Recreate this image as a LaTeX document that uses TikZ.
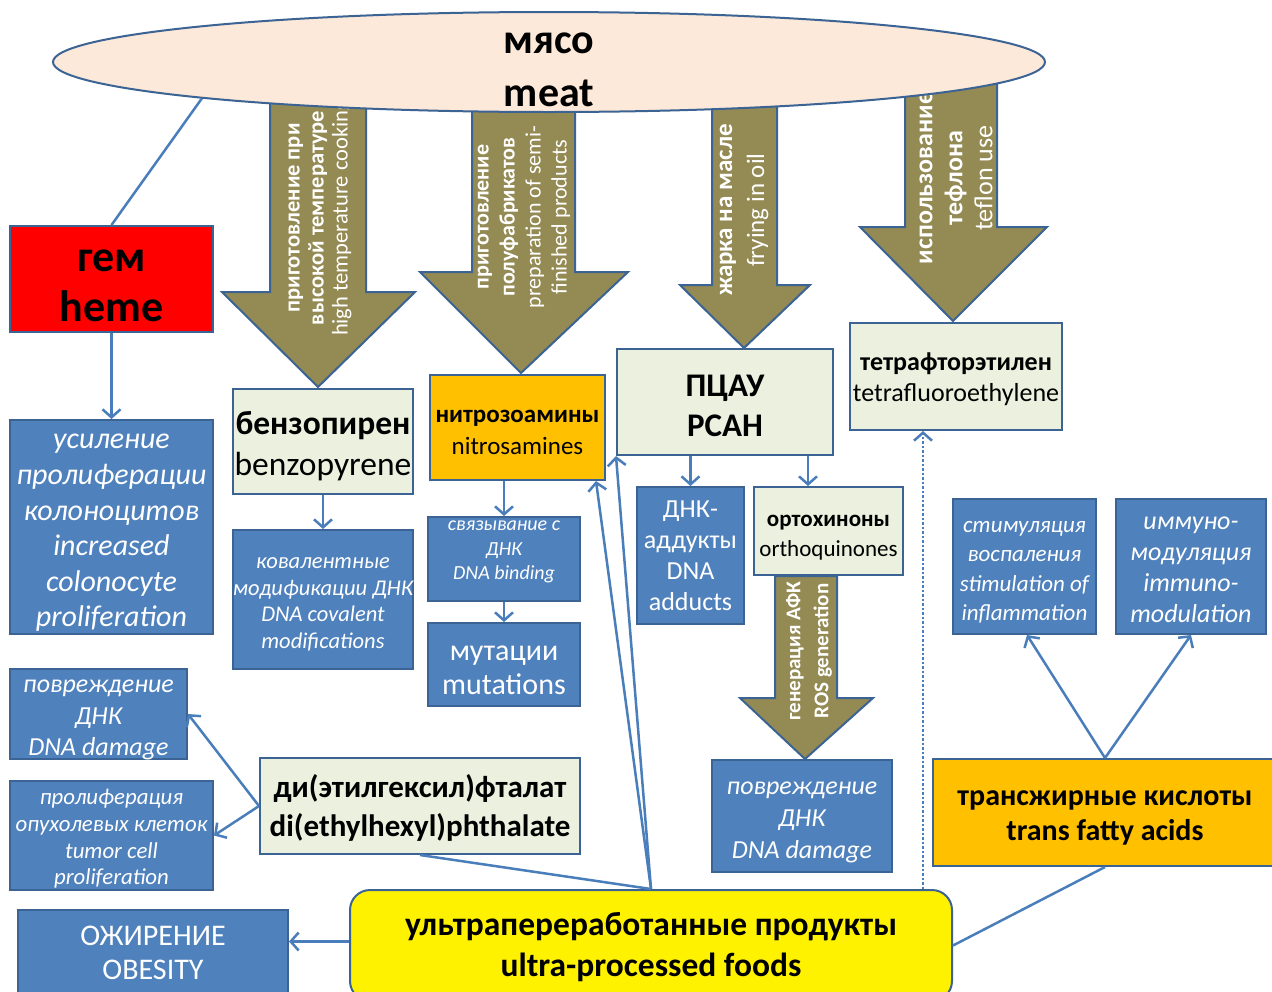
\documentclass[tikz,border=0pt]{standalone}
\usepackage{fontspec}
\setmainfont{Carlito}
\usetikzlibrary{shapes.geometric, arrows.meta, calc}
\definecolor{boxblue}{HTML}{4F81BD}
\definecolor{bordc}{HTML}{3B6393}
\definecolor{lightg}{HTML}{EBF1DE}
\definecolor{olivec}{HTML}{948A54}
\definecolor{ellfill}{HTML}{FDE9D9}
\definecolor{linec}{HTML}{4A7EBB}
\definecolor{orangec}{HTML}{FFC000}
\newcommand\setfs[2]{\fontsize{#1}{#2}\selectfont}
\begin{document}
\begin{tikzpicture}[x=1pt,y=-1pt,
 bx/.style={draw=bordc, line width=2pt, rectangle, inner sep=0pt},
 bluebx/.style={bx, fill=boxblue},
 lightbx/.style={bx, fill=lightg},
 oran/.style={bx, fill=orangec},
 tx/.style={align=center, inner sep=0pt, text=black},
 wt/.style={tx, text=white},
 arr/.style={draw=linec, line width=2.5pt, -{Straight Barb[length=8pt,width=18pt]}},
 ln/.style={draw=linec, line width=2.5pt},
 olivearr/.style={fill=olivec, draw=bordc, line width=2pt, line join=miter},
 atext/.style={rotate=90, text=white, align=center, inner sep=0pt},
 sz/.style n args={2}{minimum width=#1pt, minimum height=#2pt},
]
\useasboundingbox (0,0) rectangle (1272,991);
\fill[white] (0,0) rectangle (1272,991);

% olive process arrows
\path[olivearr] (270,95) -- (270,292) -- (222,292) -- (318,387) -- (415,292) -- (366,292) -- (366,95) -- cycle;
\begin{scope}
\clip (270,95) -- (270,292) -- (222,292) -- (318,387) -- (415,292) -- (366,292) -- (366,95) -- cycle;
\node[atext, font=\bfseries\setfs{22.5}{24}] (a1t) at (320,218) {приготовление при\\высокой температуре\\{\mdseries high temperature cooking}};
\end{scope}
\path[olivearr] (472,100) -- (472,272) -- (420,272) -- (521,373) -- (628,272) -- (575,272) -- (575,100) -- cycle;
\begin{scope}
\clip (472,100) -- (472,272) -- (420,272) -- (521,373) -- (628,272) -- (575,272) -- (575,100) -- cycle;
\node[atext, font=\bfseries\setfs{22}{26}] (a2t) at (524,217) {приготовление\\полуфабрикатов\\{\mdseries preparation of semi-}\\{\mdseries finished products}};
\end{scope}
\path[olivearr] (712,100) -- (712,285) -- (680,285) -- (744,348) -- (810,285) -- (777,285) -- (777,100) -- cycle;
\begin{scope}
\clip (712,100) -- (712,285) -- (680,285) -- (744,348) -- (810,285) -- (777,285) -- (777,100) -- cycle;
\node[atext, font=\bfseries\setfs{25}{32}] (a3t) at (744,210) {жарка на масле\\{\mdseries frying in oil}};
\end{scope}
\path[olivearr] (905,70) -- (905,227) -- (860,227) -- (953,321) -- (1047,227) -- (997,227) -- (997,70) -- cycle;
\begin{scope}
\clip (905,70) -- (905,227) -- (860,227) -- (953,321) -- (1047,227) -- (997,227) -- (997,70) -- cycle;
\node[atext, font=\bfseries\setfs{26}{30}] (a4t) at (956,178) {использование\\тефлона\\{\mdseries teflon use}};
\end{scope}
\path[olivearr] (775,576) -- (775,698) -- (740,698) -- (805,759) -- (873,698) -- (837,698) -- (837,576) -- cycle;
\begin{scope}
\clip (775,576) -- (775,698) -- (740,698) -- (805,759) -- (873,698) -- (837,698) -- (837,576) -- cycle;
\node[atext, font=\bfseries\setfs{21}{28}] (a5t) at (809,651) {генерация АФК\\ROS generation};
\end{scope}

% meat ellipse
\node[ellipse, draw=bordc, fill=ellfill, line width=2pt, sz={992}{100}, inner sep=0pt] (meat) at (549,62) {};
\node[tx, font=\bfseries\setfs{42}{53}] (meatt) at (549,70) {мясо\\meat};

% boxes
\node[bx, fill=red, sz={203}{106}] (heme) at (111.5,279) {};
\node[tx, font=\bfseries\setfs{44}{50}] (heme-t) at ([yshift=-6.5pt]heme.center) {гем\\heme};
\node[bluebx, sz={203}{214}] (usil) at (111.5,527) {};
\node[wt, font=\itshape\setfs{30}{35.6}] (usil-t) at ([yshift=-6pt]usil.center) {усиление\\пролиферации\\колоноцитов\\increased\\colonocyte\\proliferation};
\node[lightbx, sz={180}{105}] (benz) at (323,441.5) {};
\node[tx, font=\setfs{33.5}{41}] (benz-t) at ([yshift=-5pt]benz.center) {\textbf{бензопирен}\\benzopyrene};
\node[bluebx, sz={180}{139}] (koval) at (323,599.5) {};
\node[wt, font=\itshape\setfs{22.5}{26.7}] (koval-t) at ([yshift=-5pt]koval.center) {ковалентные\\модификации ДНК\\DNA covalent\\modifications};
\node[oran, sz={175}{105}] (nitro) at (517.5,427.5) {};
\node[tx, font=\setfs{25}{32}] (nitro-t) at ([yshift=-5pt]nitro.center) {\textbf{нитрозоамины}\\nitrosamines};
\node[bluebx, sz={152}{84}] (svyaz) at (504,559) {};
\node[wt, font=\itshape\setfs{20}{24.5}] (svyaz-t) at (504,552) {связывание с\\ДНК\\DNA binding};
\node[bluebx, sz={152}{83}] (mutat) at (504,664.5) {};
\node[wt, font=\setfs{30}{34}] (mutat-t) at ([yshift=-5.5pt]mutat.center) {мутации\\mutations};
\node[lightbx, sz={216}{106}] (pcah) at (725,402) {};
\node[tx, font=\bfseries\setfs{33}{40}] (pcah-t) at ([yshift=-4pt]pcah.center) {ПЦАУ\\PCAH};
\node[bluebx, sz={107}{137}] (adduct) at (690.5,555.5) {};
\node[wt, font=\setfs{26}{31}] (adduct-t) at (adduct.center) {ДНК-\\аддукты\\DNA\\adducts};
\node[lightbx, sz={149}{88}] (ortho) at (828.5,531) {};
\node[tx, font=\setfs{23}{30}] (ortho-t) at ([yshift=-7pt]ortho.center) {\textbf{ортохиноны}\\orthoquinones};
\node[bluebx, sz={180}{112}] (dnadamr) at (802,816) {};
\node[wt, font=\itshape\setfs{26}{32}] (dnadamr-t) at ([yshift=-6pt]dnadamr.center) {повреждение\\ДНК\\DNA damage};
\node[lightbx, sz={212}{107}] (tfe) at (956,376.5) {};
\node[tx, font=\setfs{26}{31}] (tfe-t) at ([yshift=-3pt]tfe.center) {\textbf{тетрафторэтилен}\\tetrafluoroethylene};
\node[bluebx, sz={143}{135}] (stim) at (1024.5,566.5) {};
\node[wt, font=\itshape\setfs{23}{29.5}] (stim-t) at ([yshift=-6pt]stim.center) {стимуляция\\воспаления\\stimulation of\\inflammation};
\node[bluebx, sz={150}{135}] (immuno) at (1191,566.5) {};
\node[wt, font=\itshape\setfs{26}{31}] (immuno-t) at ([yshift=-3.5pt]immuno.center) {иммуно-\\модуляция\\immuno-\\modulation};
\node[oran, sz={344}{107}] (trans) at (1105,812.5) {};
\node[tx, font=\bfseries\setfs{30}{34.5}] (trans-t) at ([yshift=-5.5pt]trans.center) {трансжирные кислоты\\trans fatty acids};
\node[bluebx, sz={177}{90}] (dnadaml) at (98.5,714) {};
\node[wt, font=\itshape\setfs{26}{31.5}] (dnadaml-t) at ([yshift=-6pt]dnadaml.center) {повреждение\\ДНК\\DNA damage};
\node[bluebx, sz={203}{109}] (prolif) at (111.5,835.5) {};
\node[wt, font=\itshape\setfs{22.8}{26.7}] (prolif-t) at ([yshift=-3.5pt]prolif.center) {пролиферация\\опухолевых клеток\\tumor cell\\proliferation};
\node[lightbx, sz={320}{96}] (dehp) at (420,806) {};
\node[tx, font=\bfseries\setfs{31}{39}] (dehp-t) at ([yshift=-2pt]dehp.center) {ди(этилгексил)фталат\\di(ethylhexyl)phthalate};
\node[bluebx, sz={270}{86}] (obes) at (153,953) {};
\node[wt, font=\setfs{30}{34}] (obes-t) at (obes.center) {ОЖИРЕНИЕ\\OBESITY};
\node[bx, fill=yellow, rounded corners=20pt, sz={602}{111}] (ultra) at (651,945.5) {};
\node[tx, font=\bfseries\setfs{33.5}{41}] (ultra-t) at ([yshift=-2pt]ultra.center) {ультрапереработанные продукты\\ultra-processed foods};

% connectors
\draw[ln] (meat.186) -- (heme.north);
\draw[arr] (heme.south) -- (usil.north);
\draw[arr] (benz.south) -- (koval.north);
\draw[arr] (svyaz.north |- nitro.south) -- (svyaz.north);
\draw[arr] (svyaz.south) -- (mutat.north);
\draw[arr] (adduct.north |- pcah.south) -- (adduct.north);
\draw[arr] ([xshift=83pt]pcah.south) -- ([xshift=-20.5pt]ortho.north);
\draw[arr] (trans.north) -- ([xshift=2.5pt]stim.south);
\draw[arr] (trans.north) -- (immuno.south);
\draw[arr] (dehp.west) -- (dnadaml.east);
\draw[arr] (dehp.west) -- (prolif.east);
\draw[arr] ([yshift=4pt]ultra.west) -- ([yshift=4pt]ultra.west -| obes.east);
\draw[arr] (ultra.north) -- ([xshift=-10pt]nitro.south east);
\draw[arr] (ultra.north) -- (pcah.south west);
\draw[ln] (dehp.south) -- (ultra.north);
\draw[ln] (ultra.east) -- (trans.south);
\draw[arr, dotted] ([xshift=272pt]ultra.north) -- ([xshift=-33pt]tfe.south);
\end{tikzpicture}
\end{document}
